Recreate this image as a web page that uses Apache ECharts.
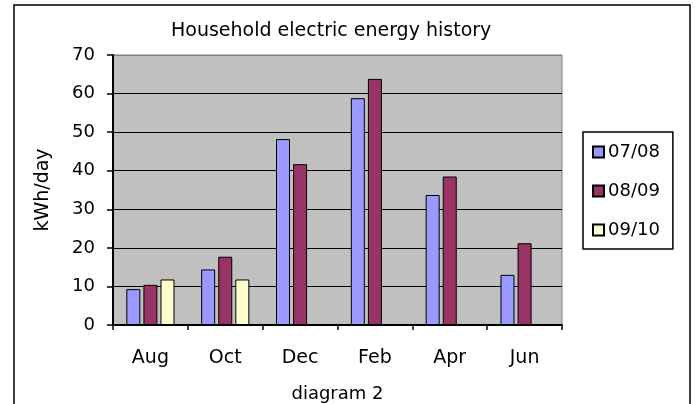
<!DOCTYPE html>
<html>
<head>
<meta charset="utf-8">
<script src="https://cdn.jsdelivr.net/npm/echarts@6/dist/echarts.min.js"></script>
<style>
  html, body { margin: 0; padding: 0; background: #fff; }
  #chart { width: 695px; height: 404px; }
</style>
</head>
<body>
<div id="chart"></div>
<script>
// 月份类目
const months = ['Aug', 'Oct', 'Dec', 'Feb', 'Apr', 'Jun']
// 每个采暖季的日均用电量 (kWh/day)
const season0708 = [9.3, 14.4, 48.2, 58.8, 33.7, 13.0]
const season0809 = [10.4, 17.7, 41.7, 63.8, 38.5, 21.2]
const season0910 = [11.8, 11.8, null, null, null, null]
const seasonNames = ['07/08', '08/09', '09/10']

// 原图文字偏宽，用 DejaVu Sans 接近其宽度
const font = 'DejaVu Sans, Liberation Sans, sans-serif'

const chart = echarts.init(document.getElementById('chart'))

function barSeries(name, data, color) {
  return {
    name: name,
    type: 'bar',
    data: data,
    barWidth: 14,
    barGap: '22%',
    itemStyle: { color: color, borderColor: '#000', borderWidth: 1 }
  }
}

const option = {
  animation: false,
  textStyle: { fontFamily: font, color: '#000' },
  // 外边框
  graphic: [{
    type: 'rect',
    shape: { x: 14, y: 5, width: 676, height: 420 },
    style: { fill: 'none', stroke: '#000', lineWidth: 1.5 },
    silent: true
  }],
  title: {
    text: 'Household electric energy history',
    left: 166,
    top: 17,
    textStyle: { fontFamily: font, fontSize: 19, fontWeight: 'normal', color: '#000' }
  },
  legend: {
    orient: 'vertical',
    left: 583,
    top: 132,
    padding: [11, 13, 10, 9],
    itemGap: 21,
    itemWidth: 11,
    itemHeight: 11,
    icon: 'rect',
    backgroundColor: '#fff',
    borderColor: '#000',
    borderWidth: 1.5,
    data: seasonNames,
    textStyle: { fontFamily: font, fontSize: 18, color: '#000', padding: [0, 0, 0, -1] }
  },
  grid: {
    left: 113,
    right: 133,
    top: 55,
    bottom: 79,
    outerBoundsMode: 'none',
    show: true,
    backgroundColor: '#c0c0c0',
    borderColor: '#808080',
    borderWidth: 1
  },
  xAxis: {
    type: 'category',
    data: months,
    name: 'diagram 2',
    nameLocation: 'middle',
    nameGap: 60,
    nameTextStyle: { fontFamily: font, fontSize: 18, color: '#000' },
    axisLine: { lineStyle: { color: '#000', width: 2 } },
    axisTick: { show: true, length: 5, lineStyle: { color: '#000', width: 1.5 } },
    axisLabel: { margin: 24, fontFamily: font, fontSize: 19, color: '#000' }
  },
  yAxis: {
    type: 'value',
    min: 0,
    max: 70,
    interval: 10,
    name: 'kWh/day',
    nameLocation: 'middle',
    nameGap: 60,
    nameTextStyle: { fontFamily: font, fontSize: 19, color: '#000' },
    axisLine: { show: true, lineStyle: { color: '#000', width: 2 } },
    axisTick: { show: true, length: 6, lineStyle: { color: '#000', width: 1.5 } },
    axisLabel: { margin: 18, fontFamily: font, fontSize: 18, color: '#000' },
    splitLine: {
      show: true,
      lineStyle: {
        color: ['#000', '#000', '#000', '#000', '#000', '#000', '#000', '#808080'],
        width: 1.2
      }
    }
  },
  series: [
    barSeries(seasonNames[0], season0708, '#9999ff'),
    barSeries(seasonNames[1], season0809, '#993366'),
    barSeries(seasonNames[2], season0910, '#ffffcc')
  ]
}

chart.setOption(option)
</script>
</body>
</html>
